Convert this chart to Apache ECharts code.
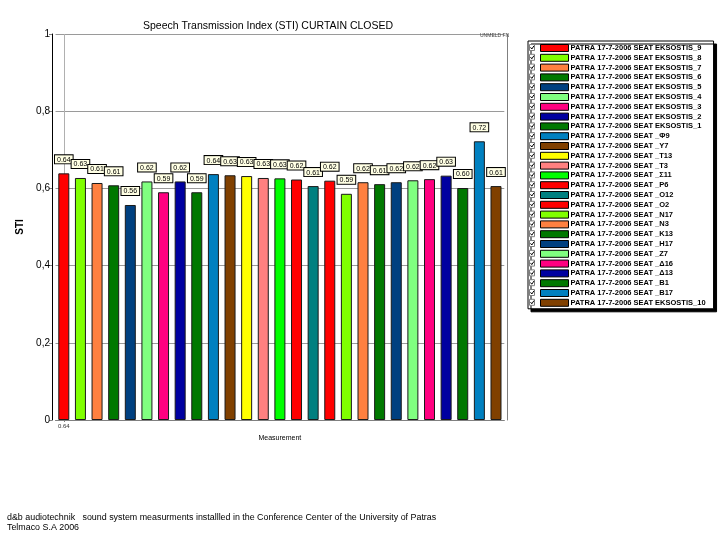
<!DOCTYPE html>
<html>
<head>
<meta charset="utf-8">
<script src="https://cdn.jsdelivr.net/npm/echarts@6/dist/echarts.min.js"></script>
<style>html,body{margin:0;padding:0;background:#fff;}#c{width:725px;height:535px;}</style>
</head>
<body>
<div id="c"></div>
<script>
var seriesNames = [
  'PATRA 17-7-2006 SEAT EKSOSTIS_9','PATRA 17-7-2006 SEAT EKSOSTIS_8','PATRA 17-7-2006 SEAT EKSOSTIS_7',
  'PATRA 17-7-2006 SEAT EKSOSTIS_6','PATRA 17-7-2006 SEAT EKSOSTIS_5','PATRA 17-7-2006 SEAT EKSOSTIS_4',
  'PATRA 17-7-2006 SEAT EKSOSTIS_3','PATRA 17-7-2006 SEAT EKSOSTIS_2','PATRA 17-7-2006 SEAT EKSOSTIS_1',
  'PATRA 17-7-2006 SEAT _Φ9','PATRA 17-7-2006 SEAT _Υ7','PATRA 17-7-2006 SEAT _Τ13','PATRA 17-7-2006 SEAT _Τ3',
  'PATRA 17-7-2006 SEAT _Σ11','PATRA 17-7-2006 SEAT _Ρ6','PATRA 17-7-2006 SEAT _Ο12','PATRA 17-7-2006 SEAT _Ο2',
  'PATRA 17-7-2006 SEAT _Ν17','PATRA 17-7-2006 SEAT _Ν3','PATRA 17-7-2006 SEAT _Κ13','PATRA 17-7-2006 SEAT _Η17',
  'PATRA 17-7-2006 SEAT _Ζ7','PATRA 17-7-2006 SEAT _Δ16','PATRA 17-7-2006 SEAT _Δ13','PATRA 17-7-2006 SEAT _Β1',
  'PATRA 17-7-2006 SEAT _Β17','PATRA 17-7-2006 SEAT EKSOSTIS_10'
];
var stiValues = [0.639,0.627,0.614,0.608,0.557,0.618,0.590,0.618,0.590,0.637,0.634,0.632,0.627,
  0.626,0.623,0.606,0.620,0.586,0.616,0.611,0.616,0.621,0.624,0.633,0.601,0.722,0.606];
var barColors = ['#ff0000','#80ff00','#ff8040','#007800','#004080','#80ff80','#ff0080','#0000a0','#007800',
  '#0080c0','#804000','#ffff00','#ff8080','#00ff00','#ff0000','#008080','#ff0000','#80ff00','#ff8040',
  '#007800','#004080','#80ff80','#ff0080','#0000a0','#007800','#0080c0','#804000'];
var xTickLabels = ['0.64'];
var yTickValues = [0, 0.2, 0.4, 0.6, 0.8, 1];

var FONT = 'Liberation Sans';
var series = seriesNames.map(function (name, i) {
  var d = seriesNames.map(function () { return '-'; });
  d[i] = stiValues[i];
  var s = {
    name: name,
    type: 'bar',
    stack: 'all',
    barWidth: 11,
    z: 3,
    data: d,
    itemStyle: { color: barColors[i], borderColor: '#1a1a1a', borderWidth: 1 },
    label: {
      show: true, position: 'top', distance: 10,
      formatter: function (p) { return p.value.toFixed(2); },
      fontFamily: FONT, fontSize: 7, color: '#000',
      backgroundColor: '#ffffe4', borderColor: '#000', borderWidth: 1, padding: [1, 2, 0, 2]
    },
    emphasis: { disabled: true }
  };
  if (i === 0) {
    s.markLine = {
      silent: true, symbol: 'none', label: { show: false }, z: 1,
      lineStyle: { color: '#b0b0b0', type: 'solid', width: 1 },
      data: [{ xAxis: 0 }]
    };
  }
  return s;
});

var legendTop = 41, legendPadTop = 3, rowH = 9.8;
var checks = [];
seriesNames.forEach(function (n, i) {
  var y = legendTop + legendPadTop + i * rowH;
  checks.push({
    type: 'rect', z: 100, shape: { x: 529.5, y: y + 0.5, width: 5, height: 6 },
    style: { fill: '#fff', stroke: '#808080', lineWidth: 1 }
  });
  checks.push({
    type: 'polyline', z: 101, shape: { points: [[530.5, y + 3.3], [531.8, y + 5], [534, y + 1.8]] },
    style: { fill: null, stroke: '#000', lineWidth: 1 }
  });
});
checks.push({
  type: 'text', z: 100, left: 480, top: 33,
  style: { text: 'UNMELD FN', fontSize: 5, fontFamily: FONT, fill: '#444' }
});

var chart = echarts.init(document.getElementById('c'));
chart.setOption({
  animation: false,
  backgroundColor: '#fff',
  title: [
    { text: 'Speech Transmission Index (STI) CURTAIN CLOSED', left: 138, top: 16,
      textStyle: { fontFamily: FONT, fontSize: 10.5, fontWeight: 'normal', color: '#000' } },
    { text: 'd&b audiotechnik   sound system measurments installled in the Conference Center of the University of Patras\nTelmaco S.A 2006',
      left: 7, top: 513, padding: 0,
      textStyle: { fontFamily: FONT, fontSize: 8.9, fontWeight: 'normal', color: '#000', lineHeight: 10 } }
  ],
  grid: { left: 55.5, right: 220.7, top: 34, bottom: 115, containLabel: false },
  legend: {
    data: seriesNames, orient: 'vertical', left: 528, top: legendTop,
    padding: [legendPadTop, 8, 2, 12],
    itemWidth: 28, itemHeight: 7, itemGap: 1.8, icon: 'rect',
    itemStyle: { borderColor: '#000', borderWidth: 1 },
    textStyle: { fontFamily: FONT, fontSize: 7.5, fontWeight: 'bold', color: '#000', lineHeight: 7, padding: [0, 0, 0, -3] },
    backgroundColor: '#fff', borderColor: '#000', borderWidth: 1,
    shadowColor: '#000', shadowBlur: 0, shadowOffsetX: 3, shadowOffsetY: 3,
    selectedMode: false
  },
  xAxis: {
    type: 'category', data: seriesNames,
    name: 'Measurement', nameLocation: 'middle', nameGap: 15,
    nameTextStyle: { fontFamily: FONT, fontSize: 7, color: '#000' },
    axisLine: { lineStyle: { color: '#808080' } },
    axisTick: { show: true, alignWithLabel: true, length: 2, interval: function (i) { return i === 0; }, lineStyle: { color: '#808080' } },
    axisLabel: { interval: function (i) { return i === 0; }, formatter: function (v, i) { return xTickLabels[i] || ''; },
      fontFamily: FONT, fontSize: 6, color: '#333', margin: 3 },
    splitLine: { show: false }
  },
  yAxis: [{
    type: 'value', min: 0, max: 1, interval: 0.2, offset: 3.5,
    name: 'STI', nameLocation: 'middle', nameGap: 15, nameRotate: 90,
    nameTextStyle: { fontFamily: FONT, fontSize: 10, fontWeight: 'bold', color: '#000' },
    axisLine: { show: true, lineStyle: { color: '#000' } },
    axisTick: { show: true, length: 3, lineStyle: { color: '#808080' } },
    axisLabel: { fontFamily: FONT, fontSize: 10, color: '#000', margin: 2,
      formatter: function (v) { return yTickValues.indexOf(v) >= 0 ? String(v).replace('.', ',') : ''; } },
    splitLine: { show: true, lineStyle: { color: '#9a9a9a' } }
  }, {
    type: 'value', min: 0, max: 1, interval: 0.2, position: 'right', offset: 2.7,
    axisLine: { show: true, lineStyle: { color: '#808080' } },
    axisTick: { show: false }, axisLabel: { show: false }, splitLine: { show: false }
  }],
  graphic: checks,
  series: series
});
</script>
</body>
</html>
